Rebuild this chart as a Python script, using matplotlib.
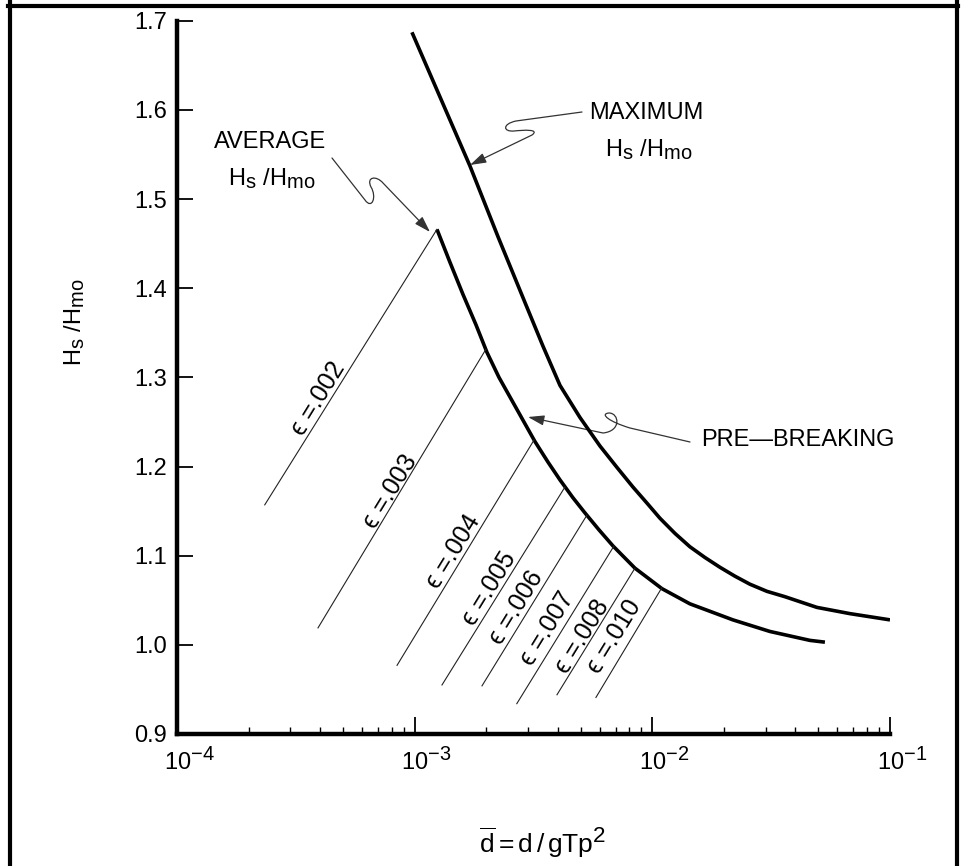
import numpy as np
import matplotlib
matplotlib.use("Agg")
import matplotlib.pyplot as plt
import matplotlib.transforms as mtransforms
import matplotlib._mathtext as _mt
from matplotlib.path import Path
from matplotlib.patches import FancyArrowPatch
from matplotlib.lines import Line2D

plt.rcParams['font.family'] = ['Liberation Sans', 'DejaVu Sans']
plt.rcParams['mathtext.fontset'] = 'custom'
plt.rcParams['mathtext.rm'] = 'Liberation Sans'
plt.rcParams['mathtext.it'] = 'Liberation Sans'
plt.rcParams['mathtext.bf'] = 'Liberation Sans:bold'
# the drawing uses nearly full size sub/superscripts
_mt.SHRINK_FACTOR = 0.85

# maximum Hs/Hmo curve
d_max = [0.000974, 0.001290, 0.001709, 0.002240, 0.002911, 0.003466, 0.004087,
         0.004960, 0.006021, 0.007099, 0.008287, 0.009490, 0.010764, 0.01245,
         0.01439, 0.01664, 0.01925, 0.02226, 0.02574, 0.03035, 0.03613,
         0.04926, 0.06781, 0.1]
h_max = [1.687, 1.612, 1.537, 1.458, 1.384, 1.335, 1.291,
         1.255, 1.223, 1.199, 1.177, 1.159, 1.142, 1.125,
         1.110, 1.098, 1.087, 1.077, 1.068, 1.060, 1.054,
         1.042, 1.035, 1.028]

# average Hs/Hmo curve
d_avg = [0.001241, 0.001408, 0.001597, 0.001811, 0.002015, 0.002263, 0.002542,
         0.002855, 0.003207, 0.003638, 0.004087, 0.004634, 0.005205, 0.005962,
         0.006827, 0.008449, 0.01098, 0.01439, 0.02183, 0.03124, 0.04603, 0.05323]
h_avg = [1.466, 1.429, 1.393, 1.359, 1.328, 1.300, 1.276,
         1.252, 1.228, 1.205, 1.185, 1.165, 1.148, 1.129,
         1.111, 1.086, 1.063, 1.046, 1.028, 1.015, 1.005, 1.003]

# epsilon lines: start and end points
eps_names = ["002", "003", "004", "005", "006", "007", "008", "010"]
eps_x0 = [0.000234, 0.000392, 0.000843, 0.001303, 0.00192, 0.00269, 0.00397, 0.00579]
eps_y0 = [1.157, 1.019, 0.977, 0.955, 0.954, 0.934, 0.944, 0.941]
eps_x1 = [0.001241, 0.001995, 0.003177, 0.004289, 0.005307, 0.006893, 0.00845, 0.01096]
eps_y1 = [1.466, 1.3316, 1.2296, 1.177, 1.1455, 1.1108, 1.086, 1.064]
# where the epsilon labels sit
lab_x = [0.000392, 0.000787, 0.00145, 0.00207, 0.00269, 0.00361, 0.00506, 0.00689]
lab_y = [1.276, 1.172, 1.105, 1.063, 1.042, 1.018, 1.009, 1.009]

y_ticks = [0.9, 1.0, 1.1, 1.2, 1.3, 1.4, 1.5, 1.6, 1.7]

HS_HMO = r"$\mathrm{H_s\ /H_{mo}}$"

W, H = 964, 866
fig = plt.figure(figsize=(W / 100, H / 100), dpi=100)

# axes box in pixels: x 177..890, y 20.7..734
ax = fig.add_axes([177 / W, 1 - 734 / H, (890 - 177) / W, (734 - 20.7) / H])

ax.plot(d_max, h_max, color="black", lw=2.6, solid_capstyle="butt", solid_joinstyle="round")
ax.plot(d_avg, h_avg, color="black", lw=2.6, solid_capstyle="butt", solid_joinstyle="round")

for i in range(len(eps_names)):
    ax.plot([eps_x0[i], eps_x1[i]], [eps_y0[i], eps_y1[i]],
            color="#222222", lw=0.8)
    ax.text(lab_x[i], lab_y[i], "\u03f5 =." + eps_names[i], rotation=58.5,
            rotation_mode="anchor", ha="center", va="center", fontsize=18)

ax.set_xscale("log")
ax.set_xlim(1e-4, 1e-1)
ax.set_ylim(0.9, 1.7)
ax.set_yticks(y_ticks)
ax.set_yticklabels(["%.1f" % v for v in y_ticks])
ax.xaxis.set_minor_locator(matplotlib.ticker.LogLocator(base=10, subs=np.arange(2, 10)))
ax.xaxis.set_minor_formatter(matplotlib.ticker.NullFormatter())

for s in ["top", "right"]:
    ax.spines[s].set_visible(False)
for s in ["left", "bottom"]:
    ax.spines[s].set_linewidth(3.2)
    ax.spines[s].set_capstyle("projecting")

ax.tick_params(axis="y", direction="in", length=11.5, width=1.3, pad=7, labelsize=17)
ax.tick_params(axis="x", which="major", direction="in", length=12, width=1.3, pad=10, labelsize=17)
ax.tick_params(axis="x", which="minor", direction="in", length=5, width=1.0)

# nudge x labels so the "10" sits under the tick
offset = mtransforms.ScaledTranslation(12 / 100, 0, fig.dpi_scale_trans)
for lab in ax.get_xticklabels():
    lab.set_transform(lab.get_transform() + offset)

# axis labels
fig.text(543 / W, 1 - 843 / H, r"$\overline{\mathrm{d}}\mathrm{=d\,/\,gTp^2}$",
         ha="center", va="center", fontsize=19)
fig.text(75 / W, 1 - 322 / H, HS_HMO, rotation=90,
         ha="center", va="center", fontsize=17)


def px(x, y):
    # pixel position -> axes fraction
    return ((x - 177) / 713.0, (734 - y) / 713.3)


def leader(pts, codes):
    verts = [px(*p) for p in pts]
    path = Path(verts, codes)
    arr = FancyArrowPatch(path=path, arrowstyle="-|>,head_length=0.7,head_width=0.22",
                          mutation_scale=14, color="#333333", lw=0.9,
                          transform=ax.transAxes, clip_on=False)
    ax.add_patch(arr)


M, L, C = Path.MOVETO, Path.LINETO, Path.CURVE4

# AVERAGE
ax.text(*px(270, 142), "AVERAGE", transform=ax.transAxes, ha="center", va="center", fontsize=17)
ax.text(*px(272, 179), HS_HMO, transform=ax.transAxes, ha="center", va="center", fontsize=17)
leader([(332, 158), (365, 200), (372, 210), (377, 197), (371, 187),
        (366, 177), (376, 175), (383, 183), (430, 232)],
       [M, L, C, C, C, C, C, C, L])

# MAXIMUM
ax.text(*px(646, 113), "MAXIMUM", transform=ax.transAxes, ha="center", va="center", fontsize=17)
ax.text(*px(649, 150), HS_HMO, transform=ax.transAxes, ha="center", va="center", fontsize=17)
leader([(582, 112), (516, 121), (502, 124), (503, 132), (514, 131),
        (524, 130), (540, 129), (532, 135), (470, 165)],
       [M, L, C, C, C, C, C, C, L])

# PRE-BREAKING
ax.text(*px(798, 440), "PRE\u2014BREAKING", transform=ax.transAxes, ha="center", va="center", fontsize=17)
leader([(690, 442), (630, 428), (610, 422), (599, 414), (609, 413),
        (619, 413), (622, 431), (603, 433), (528, 417)],
       [M, L, C, C, C, C, C, C, L])

# outer frame (left, top, right)
for xs, ys in [([10, 10], [0, H]), ([8, 958], [6, 6]), ([957, 957], [0, H])]:
    fig.add_artist(Line2D([x / W for x in xs], [1 - y / H for y in ys],
                          color="black", lw=3.0, transform=fig.transFigure))

fig.savefig("out.png", dpi=100)
